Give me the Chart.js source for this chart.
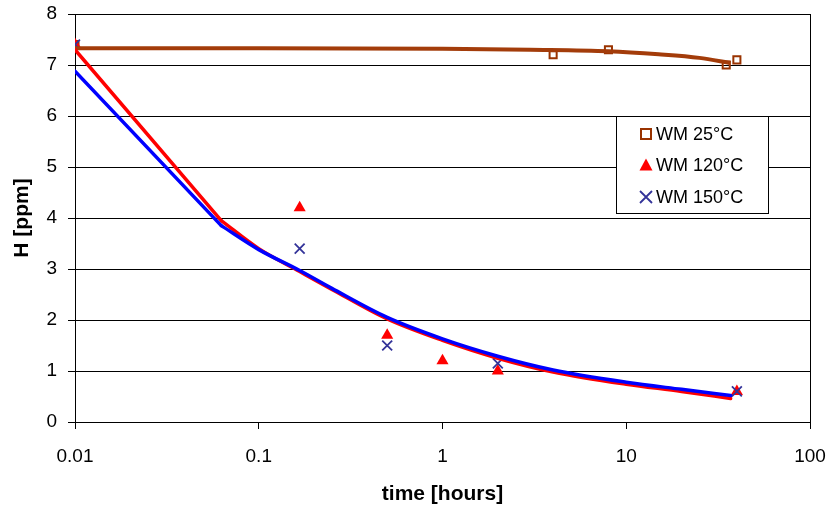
<!DOCTYPE html>
<html>
<head>
<meta charset="utf-8">
<script src="https://cdn.jsdelivr.net/npm/chart.js@4.4.0/dist/chart.umd.min.js"></script>
<style>
  html, body { margin: 0; padding: 0; background: #fff; }
  #wrap { width: 833px; height: 507px; }
</style>
</head>
<body>
<div id="wrap"><canvas id="chart" width="833" height="507"></canvas></div>
<script>
// measured points
var time25 = [0.01, 4, 8, 35, 40];
var h25 = [7.4, 7.2, 7.3, 7.0, 7.1];
var time120 = [0.01, 0.167, 0.5, 1, 2, 40];
var h120 = [7.4, 4.2, 1.7, 1.2, 1.0, 0.6];
var time150 = [0.01, 0.167, 0.5, 2, 40];
var h150 = [7.4, 3.4, 1.5, 1.15, 0.6];

// fitted curves
var fitTime25 = [0.01, 0.1, 1, 3, 8, 15, 25, 37];
var fit25 = [7.33, 7.33, 7.32, 7.30, 7.27, 7.21, 7.14, 7.04];
var fitTime = [0.01, 0.0625, 0.1, 0.167, 0.25, 0.5, 1, 2, 4, 10, 20, 37];
var fit120 = [7.3, 3.95, 3.4, 2.95, 2.6, 2.02, 1.6, 1.25, 0.98, 0.74, 0.6, 0.46];
var fit150 = [6.88, 3.85, 3.38, 2.97, 2.62, 2.05, 1.63, 1.29, 1.02, 0.78, 0.64, 0.52];

var xTicks = [0.01, 0.1, 1, 10, 100];
var yTicks = [0, 1, 2, 3, 4, 5, 6, 7, 8];

function pts(xs, ys) {
    return xs.map(function (x, i) { return { x: x, y: ys[i] }; });
}

var FONT = "'Liberation Sans', Arial, sans-serif";

// straight first piece, smooth remainder
function fitLine(ys, color, order, part) {
    var xs = part === 0 ? fitTime.slice(0, 2) : fitTime.slice(1);
    var yy = part === 0 ? ys.slice(0, 2) : ys.slice(1);
    return {
        label: 'fit', data: pts(xs, yy), order: order,
        showLine: true, pointRadius: 0, borderColor: color, borderWidth: 3.5,
        cubicInterpolationMode: 'monotone', borderCapStyle: 'round'
    };
}

// legend box + right border
var extras = {
    id: 'extras',
    afterDatasetsDraw: function (chart) {
        var ctx = chart.ctx;
        var a = chart.chartArea;
        ctx.save();
        ctx.strokeStyle = '#000';
        ctx.lineWidth = 1;
        ctx.beginPath();
        ctx.moveTo(a.right + 0.5, a.top);
        ctx.lineTo(a.right + 0.5, a.bottom);
        ctx.stroke();

        var bx = 616, by = 116, bw = 152, bh = 97;
        ctx.fillStyle = '#fff';
        ctx.fillRect(bx, by, bw, bh);
        ctx.strokeRect(bx + 0.5, by + 0.5, bw, bh);
        var items = [
            { text: 'WM 25\u00B0C', kind: 'square' },
            { text: 'WM 120\u00B0C', kind: 'tri' },
            { text: 'WM 150\u00B0C', kind: 'cross' }
        ];
        ctx.font = '18px ' + FONT;
        ctx.textBaseline = 'middle';
        items.forEach(function (it, i) {
            var mx = 646, my = 134 + i * 31.5;
            ctx.beginPath();
            if (it.kind === 'square') {
                ctx.strokeStyle = '#993300';
                ctx.lineWidth = 2;
                ctx.strokeRect(mx - 5, my - 5, 10, 10);
            } else if (it.kind === 'tri') {
                ctx.fillStyle = '#ff0000';
                ctx.moveTo(mx, my - 7);
                ctx.lineTo(mx + 6.5, my + 5);
                ctx.lineTo(mx - 6.5, my + 5);
                ctx.closePath();
                ctx.fill();
            } else {
                ctx.strokeStyle = '#333399';
                ctx.lineWidth = 1.8;
                ctx.moveTo(mx - 6, my - 6); ctx.lineTo(mx + 6, my + 6);
                ctx.moveTo(mx + 6, my - 6); ctx.lineTo(mx - 6, my + 6);
                ctx.stroke();
            }
            ctx.fillStyle = '#000';
            ctx.fillText(it.text, 656, my + 1);
        });
        ctx.restore();
    }
};

var ctx = document.getElementById('chart').getContext('2d');
new Chart(ctx, {
    type: 'scatter',
    data: {
        datasets: [
            {
                label: 'WM 25°C', data: pts(time25, h25), order: 9,
                pointStyle: 'rect', pointRadius: 5, borderColor: '#993300',
                backgroundColor: 'rgba(0,0,0,0)', pointBorderWidth: 2, showLine: false
            },
            {
                label: 'WM 120°C', data: pts(time120, h120), order: 8,
                pointStyle: 'triangle', pointRadius: 7, borderColor: '#ff0000',
                backgroundColor: '#ff0000', pointBorderWidth: 0, showLine: false
            },
            {
                label: 'WM 150°C', data: pts(time150, h150), order: 7,
                pointStyle: 'crossRot', pointRadius: 7, borderColor: '#333399',
                pointBorderWidth: 1.8, showLine: false
            },
            {
                label: 'fit 25', data: pts(fitTime25, fit25), order: 6,
                showLine: true, pointRadius: 0, borderColor: '#a33c0a', borderWidth: 4,
                cubicInterpolationMode: 'monotone'
            },
            fitLine(fit120, '#ff0000', 5, 0),
            fitLine(fit120, '#ff0000', 4, 1),
            fitLine(fit150, '#0000ff', 3, 0),
            fitLine(fit150, '#0000ff', 2, 1)
        ]
    },
    options: {
        responsive: false,
        animation: false,
        layout: { padding: { left: 0, right: 23, top: 14, bottom: 0 } },
        plugins: {
            legend: { display: false },
            tooltip: { enabled: false }
        },
        scales: {
            x: {
                type: 'logarithmic',
                min: 0.01, max: 100,
                afterBuildTicks: function (s) {
                    s.ticks = xTicks.map(function (v) { return { value: v }; });
                },
                afterFit: function (s) {
                    s.height = 85;
                    s.paddingLeft = 0;
                    s.paddingRight = 0;
                },
                grid: { drawOnChartArea: false, color: '#000', tickLength: 7 },
                border: { color: '#000', width: 1 },
                ticks: {
                    color: '#000', padding: 16, maxRotation: 0, autoSkip: false,
                    font: { family: FONT, size: 19 },
                    callback: function (v) { return String(v); }
                },
                title: {
                    display: true, text: 'time [hours]', color: '#000',
                    font: { family: FONT, size: 21, weight: 'bold' },
                    padding: { top: 0, bottom: 0 }
                }
            },
            y: {
                min: 0, max: 8,
                afterBuildTicks: function (s) {
                    s.ticks = yTicks.map(function (v) { return { value: v }; });
                },
                afterFit: function (s) {
                    s.width = 75;
                    s.paddingTop = 0;
                    s.paddingBottom = 0;
                },
                grid: { color: '#000', tickLength: 7 },
                border: { color: '#000', width: 1 },
                ticks: {
                    color: '#000', padding: 11,
                    font: { family: FONT, size: 19 }
                },
                title: {
                    display: true, text: 'H [ppm]', color: '#000',
                    font: { family: FONT, size: 21, weight: 'bold' },
                    padding: { top: 10, bottom: 0 }
                }
            }
        }
    },
    plugins: [extras]
});
</script>
</body>
</html>
